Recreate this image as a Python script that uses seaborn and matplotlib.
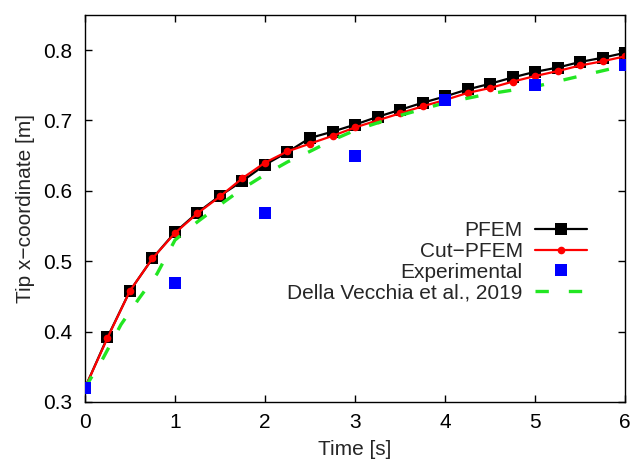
import numpy as np
import pandas as pd
import matplotlib
matplotlib.use("Agg")
import matplotlib.pyplot as plt
import seaborn as sns

# time samples for the two PFEM runs
t_sim = [0, 0.25, 0.5, 0.75, 1.0, 1.25, 1.5, 1.75, 2.0, 2.25, 2.5, 2.75, 3.0,
         3.25, 3.5, 3.75, 4.0, 4.25, 4.5, 4.75, 5.0, 5.25, 5.5, 5.75, 6.0]
pfem = [0.320, 0.392, 0.458, 0.504, 0.541, 0.569, 0.593, 0.614, 0.637, 0.655,
        0.675, 0.684, 0.694, 0.705, 0.715, 0.725, 0.734, 0.744, 0.752, 0.761,
        0.769, 0.775, 0.783, 0.789, 0.796]
cut_pfem = [0.320, 0.391, 0.458, 0.504, 0.540, 0.568, 0.592, 0.618, 0.640, 0.656,
            0.667, 0.678, 0.690, 0.700, 0.710, 0.720, 0.729, 0.739, 0.746, 0.755,
            0.763, 0.770, 0.778, 0.784, 0.791]

# experimental data
t_exp = [0, 1, 2, 3, 4, 5, 6]
exp = [0.320, 0.469, 0.569, 0.649, 0.729, 0.750, 0.778]

# Della Vecchia et al., 2019
t_dv = [0, 0.2, 0.4, 0.6, 0.8, 1.0, 1.25, 1.5, 1.75, 2.0, 2.25, 2.5, 2.75,
        3.0, 3.5, 4.0, 4.5, 5.0, 5.5, 6.0]
dv = [0.320, 0.362, 0.410, 0.447, 0.482, 0.530, 0.556, 0.580, 0.603, 0.623,
      0.641, 0.656, 0.672, 0.686, 0.707, 0.725, 0.738, 0.748, 0.763, 0.778]

sns.set_style("ticks")
plt.rcParams['font.family'] = ['Liberation Sans', 'DejaVu Sans']
plt.rcParams['font.size'] = 15

fig = plt.figure(figsize=(6.31, 4.63), dpi=100)
ax = fig.add_axes([0.1347, 0.1318, 0.8558, 0.8362])

sns.lineplot(x=t_sim, y=pfem, ax=ax, color='black', lw=1.6, marker='s',
             markersize=8, markeredgewidth=0, label='PFEM')
sns.lineplot(x=t_sim, y=cut_pfem, ax=ax, color='red', lw=1.6, marker='o',
             markersize=5.5, markeredgewidth=0, label='Cut\u2212PFEM')
ax.plot(t_exp, exp, ls='none', marker='s', color='blue', markersize=8.5,
        markeredgewidth=0, label='Experimental', zorder=3)
sns.lineplot(x=t_dv, y=dv, ax=ax, color='#22e622', lw=2.4,
             label='Della Vecchia et al., 2019')
ax.lines[-1].set_dashes((4.0, 6.0))

ax.set_xlim(0, 6)
ax.set_ylim(0.3, 0.85)
ax.set_xticks([0, 1, 2, 3, 4, 5, 6])
ax.set_yticks([0.3, 0.4, 0.5, 0.6, 0.7, 0.8])
ax.set_yticklabels(['0.3', '0.4', '0.5', '0.6', '0.7', '0.8'])
ax.tick_params(axis='both', direction='in', length=5, width=1, top=True,
               right=True, labelsize=15, colors='black')
ax.tick_params(axis='y', pad=9)
ax.tick_params(axis='x', pad=8)
for s in ax.spines.values():
    s.set_color('black')
    s.set_linewidth(1)
    s.set_visible(True)

ax.set_xlabel('Time [s]', fontsize=15, labelpad=6)
ax.set_ylabel('Tip x\u2212coordinate [m]', fontsize=15, labelpad=6)

leg = ax.legend(loc='center right', bbox_to_anchor=(0.965, 0.362), frameon=False,
                markerfirst=False, fontsize=15, handlelength=2.5,
                labelspacing=0.08, handletextpad=0.6)
for txt in leg.get_texts():
    txt.set_ha('right')

fig.savefig('out.png', dpi=100)
